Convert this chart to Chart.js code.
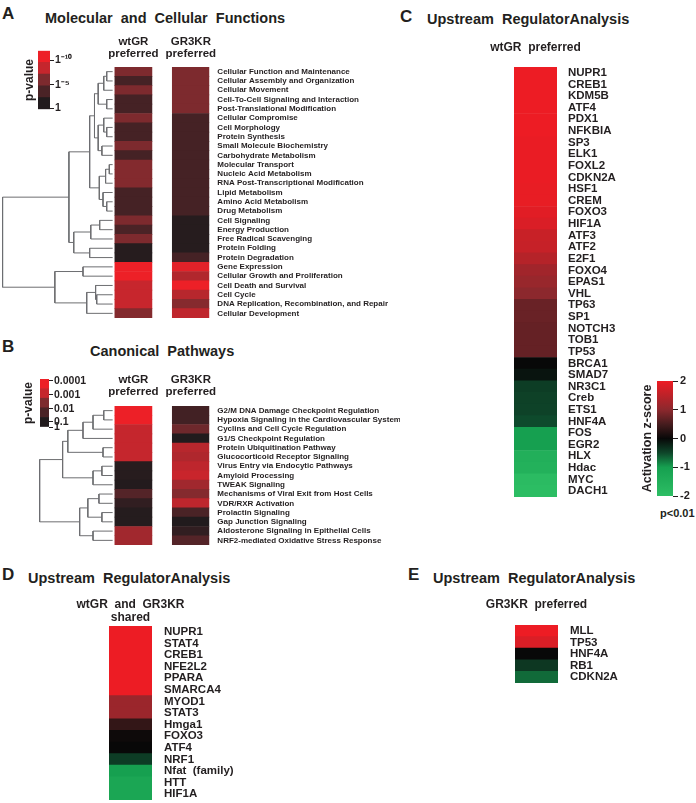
<!DOCTYPE html>
<html>
<head>
<meta charset="utf-8">
<script src="https://cdn.jsdelivr.net/npm/chart.js@4.4.1/dist/chart.umd.min.js"></script>
<style>
  body { margin: 0; background: #fff; }
  #page { position: relative; width: 696px; height: 803px; overflow: hidden; font-family: "Liberation Sans", Arial, sans-serif; color: #231f20; }
  .box { position: absolute; }
  .txt { position: absolute; font-weight: bold; white-space: pre; line-height: 1; }
  .letter { font-size: 17px; }
  .title { font-size: 14.5px; }
</style>
</head>
<body>
<div id="page">
  <div class="txt letter" style="left:2px;top:5px">A</div>
  <div class="txt title" style="left:45px;top:11px">Molecular  and  Cellular  Functions</div>
  <div class="txt letter" style="left:2px;top:338px">B</div>
  <div class="txt title" style="left:90px;top:344px">Canonical  Pathways</div>
  <div class="txt letter" style="left:400px;top:8px">C</div>
  <div class="txt title" style="left:427px;top:12px">Upstream  RegulatorAnalysis</div>
  <div class="txt letter" style="left:2px;top:566px">D</div>
  <div class="txt title" style="left:28px;top:571px">Upstream  RegulatorAnalysis</div>
  <div class="txt letter" style="left:408px;top:566px">E</div>
  <div class="txt title" style="left:433px;top:571px">Upstream  RegulatorAnalysis</div>
  <div class="txt" style="left:660px;top:508px;font-size:11px">p&lt;0.01</div>

  <div class="box" style="left:0;top:30px;width:400px;height:288px"><canvas id="heatA"></canvas></div>
  <div class="box" style="left:10px;top:45px;width:70px;height:70px"><canvas id="keyA"></canvas></div>
  <div class="box" style="left:0;top:370px;width:400px;height:175px"><canvas id="heatB"></canvas></div>
  <div class="box" style="left:8px;top:369px;width:80px;height:68px"><canvas id="keyB"></canvas></div>
  <div class="box" style="left:470px;top:31px;width:200px;height:466px"><canvas id="heatC"></canvas></div>
  <div class="box" style="left:630px;top:371px;width:66px;height:135px"><canvas id="keyC"></canvas></div>
  <div class="box" style="left:60px;top:590px;width:300px;height:210px"><canvas id="heatD"></canvas></div>
  <div class="box" style="left:470px;top:589px;width:200px;height:94px"><canvas id="heatE"></canvas></div>
</div>

<script>
// ---- A: molecular and cellular functions (-log10 p) ----
const funcNames = [
  "Cellular Function and Maintenance", "Cellular Assembly and Organization", "Cellular Movement",
  "Cell-To-Cell Signaling and Interaction", "Post-Translational Modification", "Cellular Compromise",
  "Cell Morphology", "Protein Synthesis", "Small Molecule Biochemistry", "Carbohydrate Metabolism",
  "Molecular Transport", "Nucleic Acid Metabolism", "RNA Post-Transcriptional Modification",
  "Lipid Metabolism", "Amino Acid Metabolism", "Drug Metabolism", "Cell Signaling",
  "Energy Production", "Free Radical Scavenging", "Protein Folding", "Protein Degradation",
  "Gene Expression", "Cellular Growth and Proliferation", "Cell Death and Survival", "Cell Cycle",
  "DNA Replication, Recombination, and Repair", "Cellular Development"
];
const funcWt = [5, 2.2, 5, 2.2, 2.2, 5, 2.2, 2.2, 5, 2.2, 5.2, 5.2, 5.2, 2.2, 2.2, 2.2,
                5, 2.5, 5, 0.3, 0.3, 10, 10, 7.6, 7.6, 7.6, 5.2];
const funcKr = [5, 5, 5, 5, 5, 2.2, 2.2, 2.2, 2.2, 2.2, 2.2, 2.2, 2.2, 2.2, 2.2, 2.2,
                0.3, 0.3, 0.3, 0.3, 2.2, 9.3, 6.8, 10, 7, 5.3, 7.3];
// merges: [left, right, distance]; ids >= rows.length refer to earlier merges
const funcTree = [
  [0, 1, 0.22], [27, 2, 0.30], [3, 4, 0.22], [28, 29, 0.45],
  [6, 7, 0.22], [5, 31, 0.30], [8, 9, 0.35], [32, 33, 0.45],
  [10, 11, 0.15], [35, 12, 0.25], [14, 15, 0.22], [13, 37, 0.32], [36, 38, 0.42],
  [30, 34, 0.55], [40, 39, 0.68],
  [16, 17, 0.41], [42, 18, 0.65], [19, 20, 0.68], [43, 44, 1.11],
  [41, 45, 1.24],
  [21, 22, 0.86], [24, 25, 0.49], [23, 48, 0.52], [49, 26, 0.76], [47, 50, 1.62],
  [46, 51, 3.03]
];
const funcKeyLevels = [0, 2.5, 5, 7.5, 10];
const funcKeyTicks = [4.2, 2.1, 0.1];
const funcKeyText = ["1\u207B\u00B9\u2070", "1\u207B\u2075", "1"];

// ---- B: canonical pathways (-log10 p) ----
const pathNames = [
  "G2/M DNA Damage Checkpoint Regulation", "Hypoxia Signaling in the Cardiovascular System",
  "Cyclins and Cell Cycle Regulation", "G1/S Checkpoint Regulation", "Protein Ubiquitination Pathway",
  "Glucocorticoid Receptor Signaling", "Virus Entry via Endocytic Pathways", "Amyloid Processing",
  "TWEAK Signaling", "Mechanisms of Viral Exit from Host Cells", "VDR/RXR Activation",
  "Prolactin Signaling", "Gap Junction Signaling", "Aldosterone Signaling in Epithelial Cells",
  "NRF2-mediated Oxidative Stress Response"
];
const pathWt = [4, 4, 3, 3, 3, 3, 0.15, 0.15, 0.05, 1.2, 0.4, 0.1, 0.1, 2.5, 2.5];
const pathKr = [0.8, 0.8, 1.7, 0, 2.8, 2.7, 2.9, 3.1, 2.5, 2.1, 2.9, 1.0, 0, 0.4, 1.2];
const pathTree = [
  [0, 1, 0.30], [15, 2, 0.59], [16, 3, 0.86], [4, 5, 0.32], [17, 18, 1.27],
  [6, 7, 0.35], [20, 8, 0.59], [19, 21, 1.41],
  [9, 10, 0.43], [11, 12, 0.35], [23, 24, 0.73], [13, 14, 0.59], [25, 26, 0.95],
  [22, 27, 2.03]
];
const pathKeyLevels = [0, 1, 2, 3, 4];
const pathKeyTicks = [4.8, 3.35, 1.9, 0.55, 0];
const pathKeyText = ["0.0001", "0.001", "0.01", "0.1", "1"];

// ---- C, D, E: upstream regulators (activation z-score) ----
const wtRegNames = ["NUPR1", "CREB1", "KDM5B", "ATF4", "PDX1", "NFKBIA", "SP3", "ELK1", "FOXL2",
  "CDKN2A", "HSF1", "CREM", "FOXO3", "HIF1A", "ATF3", "ATF2", "E2F1", "FOXO4", "EPAS1", "VHL",
  "TP63", "SP1", "NOTCH3", "TOB1", "TP53", "BRCA1", "SMAD7", "NR3C1", "Creb", "ETS1", "HNF4A",
  "FOS", "EGR2", "HLX", "Hdac", "MYC", "DACH1"];
const wtRegZ = [2, 2, 2, 2, 2, 2, 1.97, 1.97, 1.97, 1.97, 1.95, 1.95, 1.88, 1.8, 1.62, 1.6,
  1.42, 1.22, 1.12, 1.0, 0.75, 0.75, 0.72, 0.72, 0.72, 0, -0.1, -0.43, -0.46, -0.47, -0.52,
  -1.0, -1.0, -1.5, -1.55, -1.9, -1.95];
const sharedRegNames = ["NUPR1", "STAT4", "CREB1", "NFE2L2", "PPARA", "SMARCA4", "MYOD1", "STAT3",
  "Hmga1", "FOXO3", "ATF4", "NRF1", "Nfat  (family)", "HTT", "HIF1A"];
const sharedRegZ = [2, 2, 2, 2, 2, 2, 1.15, 1.15, 0.35, 0.05, 0, -0.42, -1.0, -1.2, -1.2];
const krRegNames = ["MLL", "TP53", "HNF4A", "RB1", "CDKN2A"];
const krRegZ = [2, 1.8, 0, -0.38, -0.7];
const zKeyRange = [-2, 2];

const INK = "#231f20";
const FONT = "'Liberation Sans', Arial, sans-serif";
const COL_STEP = 1.55;   // column pitch in column widths
const LEAF_GAP = 0.06;

Chart.defaults.font.family = FONT;
Chart.defaults.color = INK;

const P_STOPS = [[0, [33, 27, 29]], [0.25, [74, 35, 38]], [0.5, [125, 42, 46]], [0.75, [197, 38, 45]], [1, [237, 32, 39]]];
const Z_STOPS = [[-2, [45, 190, 100]], [-1, [22, 160, 80]], [-0.5, [14, 70, 42]], [0, [8, 8, 8]],
                 [0.5, [70, 28, 30]], [1, [140, 40, 45]], [2, [237, 28, 36]]];

function rgb(c) { return "rgb(" + c.join(",") + ")"; }
function ramp(stops, v) {
  if (v <= stops[0][0]) return rgb(stops[0][1]);
  for (let k = 1; k < stops.length; k++) {
    if (v <= stops[k][0]) {
      const t = (v - stops[k - 1][0]) / (stops[k][0] - stops[k - 1][0]);
      return rgb(stops[k - 1][1].map((a, j) => Math.round(a + (stops[k][1][j] - a) * t)));
    }
  }
  return rgb(stops[stops.length - 1][1]);
}
const pColor = max => v => ramp(P_STOPS, v / max);
const zColor = v => ramp(Z_STOPS, v);

// dendrogram as one broken polyline
function treePoints(tree, n) {
  const nodes = [];
  for (let i = 0; i < n; i++) nodes.push({x: -LEAF_GAP, y: i + 0.5});
  const pts = [];
  tree.forEach(([a, b, h]) => {
    const l = nodes[a], r = nodes[b];
    pts.push({x: l.x, y: l.y}, {x: -h, y: l.y}, {x: -h, y: r.y}, {x: r.x, y: r.y}, {x: null, y: null});
    nodes.push({x: -h, y: (l.y + r.y) / 2});
  });
  return pts;
}

function heatChart(id, cfg) {
  const n = cfg.rows.length;
  const datasets = cfg.columns.map((vals, c) => ({
    type: "bar",
    data: vals.map((v, i) => ({x: [c * COL_STEP, c * COL_STEP + 1], y: i + 0.5})),
    backgroundColor: vals.map(cfg.color),
    borderWidth: 0,
    grouped: false,
    categoryPercentage: 1,
    barPercentage: 1
  }));
  if (cfg.tree) {
    datasets.push({
      type: "line",
      data: treePoints(cfg.tree, n),
      borderColor: "#6d6e71",
      borderWidth: 1,
      pointRadius: 0,
      tension: 0,
      spanGaps: false
    });
  }
  return new Chart(document.getElementById(id), {
    type: "bar",
    data: {datasets},
    options: {
      indexAxis: "y",
      responsive: true,
      maintainAspectRatio: false,
      animation: false,
      layout: {padding: {left: cfg.padLeft || 0, top: 0, right: 0, bottom: 0}},
      plugins: {legend: {display: false}, tooltip: {enabled: false}},
      scales: {
        x: {
          type: "linear", position: "top", offset: false,
          min: cfg.xMin, max: (cfg.columns.length - 1) * COL_STEP + 1,
          grid: {display: false, drawTicks: false}, border: {display: false},
          afterBuildTicks: s => { s.ticks = cfg.headers.map((h, c) => ({value: c * COL_STEP + 0.5})); },
          afterFit: s => { s.height = cfg.headH; s.paddingLeft = 0; s.paddingRight = 0; },
          ticks: {
            autoSkip: false, maxRotation: 0, padding: cfg.headPad, color: INK,
            font: {size: cfg.headSize, weight: "bold", lineHeight: cfg.headLine},
            callback: (v, i) => cfg.headers[i]
          }
        },
        y: {
          type: "linear", reverse: true, offset: false, min: 0, max: n, display: false,
          afterBuildTicks: s => { s.ticks = cfg.rows.concat([""]).map((r, i) => ({value: i})); }
        },
        names: {
          type: "category", axis: "y", labels: cfg.rows, position: "right", offset: true,
          grid: {display: false, drawTicks: false}, border: {display: false},
          afterFit: s => { s.width = cfg.labelW; s.paddingTop = 0; s.paddingBottom = 0; },
          ticks: {autoSkip: false, padding: cfg.labelPad, color: INK, font: {size: cfg.labelSize, weight: "bold"}}
        }
      }
    }
  });
}

function keyAxes(cfg) {
  return {
    side: {
      type: "linear", axis: "y", position: "left",
      grid: {display: false, drawTicks: false}, border: {display: false}, ticks: {display: false},
      afterFit: s => { s.width = cfg.sideW; },
      title: {display: true, text: cfg.title, color: INK, padding: {top: cfg.titlePad, bottom: 0},
              font: {size: cfg.titleSize, weight: "bold"}}
    }
  };
}

function stepKey(id, cfg) {
  return new Chart(document.getElementById(id), {
    type: "bar",
    data: {
      labels: [""],
      datasets: cfg.levels.map(l => ({data: [1], backgroundColor: cfg.color(l), borderWidth: 0}))
    },
    options: {
      responsive: true, maintainAspectRatio: false, animation: false,
      layout: {padding: {top: cfg.padTop, bottom: cfg.padBottom, left: 0, right: 0}},
      plugins: {legend: {display: false}, tooltip: {enabled: false}},
      datasets: {bar: {categoryPercentage: 1, barPercentage: 1}},
      scales: Object.assign({
        x: {stacked: true, display: false},
        y: {
          stacked: true, position: "right", min: 0, max: cfg.levels.length,
          border: {display: false},
          grid: {display: true, drawOnChartArea: false, drawTicks: true, tickLength: 4, color: INK, lineWidth: 1},
          afterBuildTicks: s => { s.ticks = cfg.tickPos.map(v => ({value: v})); },
          afterFit: s => { s.width = cfg.tickW; s.paddingTop = 0; s.paddingBottom = 0; },
          ticks: {autoSkip: false, padding: 1, color: INK, font: {size: 10.5, weight: "bold"},
                  callback: (v, i) => cfg.tickText[i]}
        }
      }, keyAxes(cfg))
    }
  });
}

function gradientKey(id, cfg) {
  const [lo, hi] = cfg.range;
  return new Chart(document.getElementById(id), {
    type: "bar",
    data: {
      labels: [""],
      datasets: [{
        data: [[lo, hi]],
        borderWidth: 0,
        backgroundColor: c => {
          const area = c.chart.chartArea;
          if (!area) return null;
          const g = c.chart.ctx.createLinearGradient(0, area.bottom, 0, area.top);
          Z_STOPS.forEach(([z, col]) => g.addColorStop((z - lo) / (hi - lo), rgb(col)));
          return g;
        }
      }]
    },
    options: {
      responsive: true, maintainAspectRatio: false, animation: false,
      layout: {padding: {top: cfg.padTop, bottom: cfg.padBottom, left: 0, right: 0}},
      plugins: {legend: {display: false}, tooltip: {enabled: false}},
      datasets: {bar: {categoryPercentage: 1, barPercentage: 1}},
      scales: Object.assign({
        x: {display: false},
        y: {
          position: "right", min: lo, max: hi,
          border: {display: false},
          grid: {display: true, drawOnChartArea: false, drawTicks: true, tickLength: 5, color: INK, lineWidth: 1},
          afterFit: s => { s.width = cfg.tickW; s.paddingTop = 0; s.paddingBottom = 0; },
          ticks: {stepSize: 1, padding: 2, color: INK, font: {size: 11, weight: "bold"}}
        }
      }, keyAxes(cfg))
    }
  });
}

heatChart("heatA", {
  rows: funcNames, columns: [funcWt, funcKr], tree: funcTree, color: pColor(10),
  headers: [["wtGR", "preferred"], ["GR3KR", "preferred"]],
  xMin: -3.1, labelW: 190.65, headH: 37, headPad: 7.5, headSize: 11.5, headLine: 1.05,
  labelSize: 8, labelPad: 8
});
stepKey("keyA", {
  levels: funcKeyLevels, color: pColor(10), tickPos: funcKeyTicks, tickText: funcKeyText,
  padTop: 5.7, padBottom: 5.7, sideW: 28, tickW: 30,
  title: "p-value", titleSize: 12, titlePad: 12.8
});
heatChart("heatB", {
  rows: pathNames, columns: [pathWt, pathKr], tree: pathTree, color: pColor(4),
  headers: [["wtGR", "preferred"], ["GR3KR", "preferred"]],
  xMin: -3.1, labelW: 190.65, headH: 36, headPad: 8, headSize: 11.5, headLine: 1.05,
  labelSize: 8, labelPad: 8
});
stepKey("keyB", {
  levels: pathKeyLevels, color: pColor(4), tickPos: pathKeyTicks, tickText: pathKeyText,
  padTop: 10, padBottom: 10, sideW: 32, tickW: 39,
  title: "p-value", titleSize: 12, titlePad: 13.8
});
heatChart("heatC", {
  rows: wtRegNames, columns: [wtRegZ], color: zColor,
  headers: ["wtGR  preferred"],
  xMin: 0, padLeft: 44, labelW: 113, headH: 36, headPad: 13, headSize: 12, headLine: 1.1,
  labelSize: 11.5, labelPad: 11
});
gradientKey("keyC", {
  range: zKeyRange, padTop: 10, padBottom: 10, sideW: 27, tickW: 23,
  title: "Activation z-score", titleSize: 12.5, titlePad: 10.5
});
heatChart("heatD", {
  rows: sharedRegNames, columns: [sharedRegZ], color: zColor,
  headers: [["wtGR  and  GR3KR", "shared"]],
  xMin: 0, padLeft: 49, labelW: 208, headH: 36, headPad: 1.5, headSize: 12, headLine: 1.1,
  labelSize: 11.5, labelPad: 12
});
heatChart("heatE", {
  rows: krRegNames, columns: [krRegZ], color: zColor,
  headers: ["GR3KR  preferred"],
  xMin: 0, padLeft: 45, labelW: 112, headH: 36, headPad: 13.5, headSize: 12, headLine: 1.1,
  labelSize: 11.5, labelPad: 12
});
</script>
</body>
</html>
